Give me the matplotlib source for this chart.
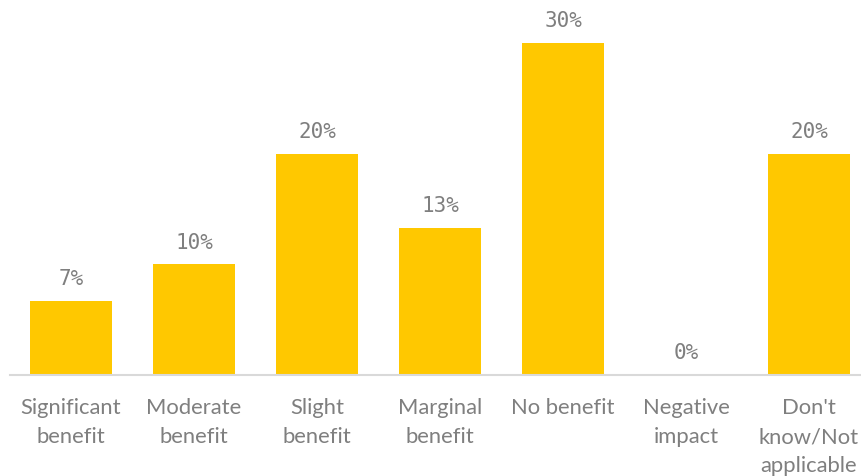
import matplotlib.pyplot as plt

categories = ["Significant\nbenefit", "Moderate\nbenefit", "Slight\nbenefit",
              "Marginal\nbenefit", "No benefit", "Negative\nimpact",
              "Don't\nknow/Not\napplicable"]
shares = [6.7, 10.0, 20.0, 13.3, 30.0, 0.0, 20.0]

bar_color = "#FFC800"
text_color = "#7F7F7F"

fig = plt.figure(figsize=(8.61, 4.77), dpi=100)
# axes spans a bit past the right edge so the 7 slots stay evenly spaced
ax = fig.add_axes([9.5 / 861, 101 / 477, 861 / 861, 376 / 477])

x = range(len(categories))
bars = ax.bar(x, shares, width=0.667, color=bar_color)
ax.set_xlim(-0.5, len(categories) - 0.5)
ax.set_ylim(0, 376 / 11.07)

for rect, v in zip(bars, shares):
    ax.annotate(f"{v:.0f}%", (rect.get_x() + rect.get_width() / 2, rect.get_height()),
                xytext=(0, 9), textcoords="offset points", ha="center", va="bottom",
                fontsize=15, family="DejaVu Sans Mono", color=text_color)

ax.set_xticks(list(x))
ax.set_xticklabels(categories, fontsize=15.8, family="Lato", color=text_color,
                   linespacing=1.55, va="top")
ax.tick_params(axis="x", length=0, pad=16)
ax.set_yticks([])
for side in ["top", "right", "left"]:
    ax.spines[side].set_visible(False)
ax.spines["bottom"].set_color("#D9D9D9")
ax.spines["bottom"].set_linewidth(1.5)

fig.savefig("out.png", dpi=100)
